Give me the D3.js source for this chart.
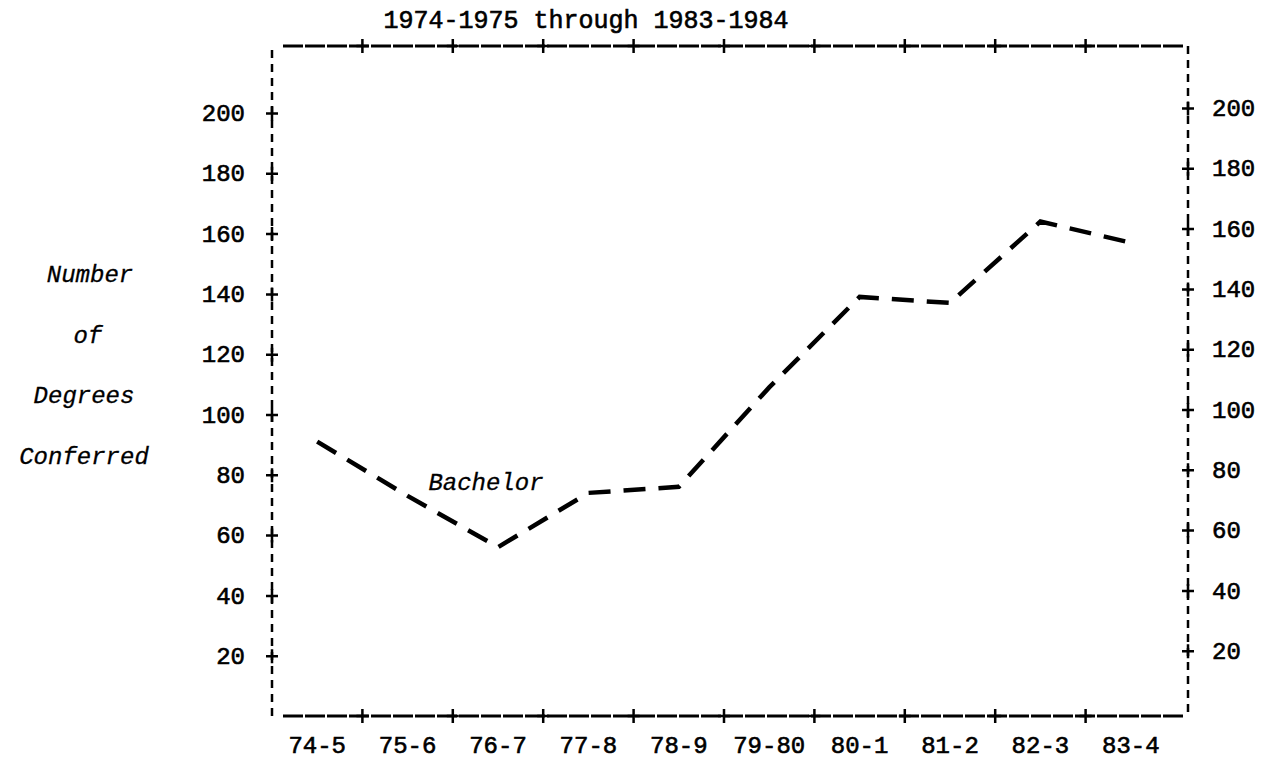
<!DOCTYPE html>
<html>
<head>
<meta charset="utf-8">
<script src="https://cdn.jsdelivr.net/npm/d3@7"></script>
<style>
  body { margin: 0; background: #fff; overflow: hidden; }
  svg { display: block; }
  text { font-family: "Liberation Mono", "Courier New", monospace; fill: #000; }
  .ital { font-style: italic; }
</style>
</head>
<body>
<div id="chart"></div>
<script>
// academic years on the x axis
var years = ['74-5','75-6','76-7','77-8','78-9','79-80','80-1','81-2','82-3','83-4'];
// bachelor degrees conferred
var bachelor = [91, 73, 56, 74, 76, 109, 139, 137, 164, 157];
var yTicks = [20, 40, 60, 80, 100, 120, 140, 160, 180, 200];
var yLabelLines = ['Number', 'of', 'Degrees', 'Conferred'];

var W = 1272, H = 759;
var frameL = 272, frameR = 1188, frameT = 46, frameB = 716;

var svg = d3.select('#chart').append('svg')
            .attr('width', W).attr('height', H);

var x = d3.scaleBand().domain(years).range([272, 1176]);
var y = d3.scaleLinear().domain([0, 200]).range([frameB, 113]);
// right-hand scale sits a few pixels higher in the original
var yR = d3.scaleLinear().domain([0, 200]).range([frameB - 5, 108]);

var plus = function(cx, cy) {
  return 'M' + (cx - 6) + ' ' + cy + 'H' + (cx + 6) +
         'M' + cx + ' ' + (cy - 7) + 'V' + (cy + 7);
}

// frame: short dashes on the sides, long ones top and bottom
svg.append('line').attr('x1', frameL).attr('x2', frameL).attr('y1', frameT + 4).attr('y2', frameB)
   .attr('stroke', '#000').attr('stroke-width', 2.5).attr('stroke-dasharray', '8,6');
svg.append('line').attr('x1', frameR).attr('x2', frameR).attr('y1', frameT).attr('y2', frameB)
   .attr('stroke', '#000').attr('stroke-width', 2.5).attr('stroke-dasharray', '8,6');
[frameT, frameB].forEach(function(yy) {
  svg.append('line').attr('x1', 283).attr('x2', 1183).attr('y1', yy).attr('y2', yy)
     .attr('stroke', '#000').attr('stroke-width', 3).attr('stroke-dasharray', '20,2');
});

// + ticks at band boundaries on top and bottom
var bounds = years.slice(1).map(function(d) { return x(d); });
[frameT, frameB].forEach(function(yy) {
  svg.selectAll(null).data(bounds).enter().append('path')
     .attr('d', function(d) { return plus(d, yy); })
     .attr('stroke', '#000').attr('stroke-width', 2.5).attr('fill', 'none');
});

// left axis
var gL = svg.append('g').attr('transform', 'translate(' + frameL + ',0)')
            .call(d3.axisLeft(y).tickValues(yTicks).tickSize(0).tickPadding(27));
gL.select('.domain').remove();
gL.selectAll('.tick').append('path').attr('d', plus(0, 0))
  .attr('stroke', '#000').attr('stroke-width', 2.5);

// right axis
var gR = svg.append('g').attr('transform', 'translate(' + frameR + ',0)')
            .call(d3.axisRight(yR).tickValues(yTicks).tickSize(0).tickPadding(24));
gR.select('.domain').remove();
gR.selectAll('.tick').append('path').attr('d', plus(0, 0))
  .attr('stroke', '#000').attr('stroke-width', 2.5);

// bottom labels
var gB = svg.append('g').attr('transform', 'translate(0,' + frameB + ')')
            .call(d3.axisBottom(x).tickSize(0));
gB.select('.domain').remove();
gB.selectAll('.tick text').attr('dy', null).attr('y', 37);

svg.selectAll('.tick text')
   .style('font-family', '"Liberation Mono", monospace')
   .style('font-size', '24px')
   .attr('fill', '#000').attr('stroke', '#000').attr('stroke-width', 0.6);

// title
svg.append('text').attr('x', 586).attr('y', 28).attr('text-anchor', 'middle')
   .style('font-size', '25px').attr('stroke', '#000').attr('stroke-width', 0.6)
   .text('1974-1975 through 1983-1984');

// italic y label
var labX = [90, 88, 84, 84];
svg.selectAll('.ylab').data(yLabelLines).enter().append('text')
   .attr('class', 'ital')
   .attr('x', function(d, i) { return labX[i]; })
   .attr('y', function(d, i) { return 282 + i * 60.5; })
   .attr('text-anchor', 'middle')
   .style('font-size', '24px')
   .attr('stroke', '#000').attr('stroke-width', 0.3)
   .text(function(d) { return d; });

// the series
var line = d3.line()
  .x(function(d, i) { return x(years[i]) + x.bandwidth() / 2; })
  .y(function(d) { return y(d); });

svg.append('path').datum(bachelor)
   .attr('d', line)
   .attr('fill', 'none').attr('stroke', '#000')
   .attr('stroke-width', 4.5).attr('stroke-dasharray', '22,13');

svg.append('text').attr('class', 'ital')
   .attr('x', 486).attr('y', 490).attr('text-anchor', 'middle')
   .style('font-size', '24px')
   .attr('stroke', '#000').attr('stroke-width', 0.3)
   .text('Bachelor');
</script>
</body>
</html>
